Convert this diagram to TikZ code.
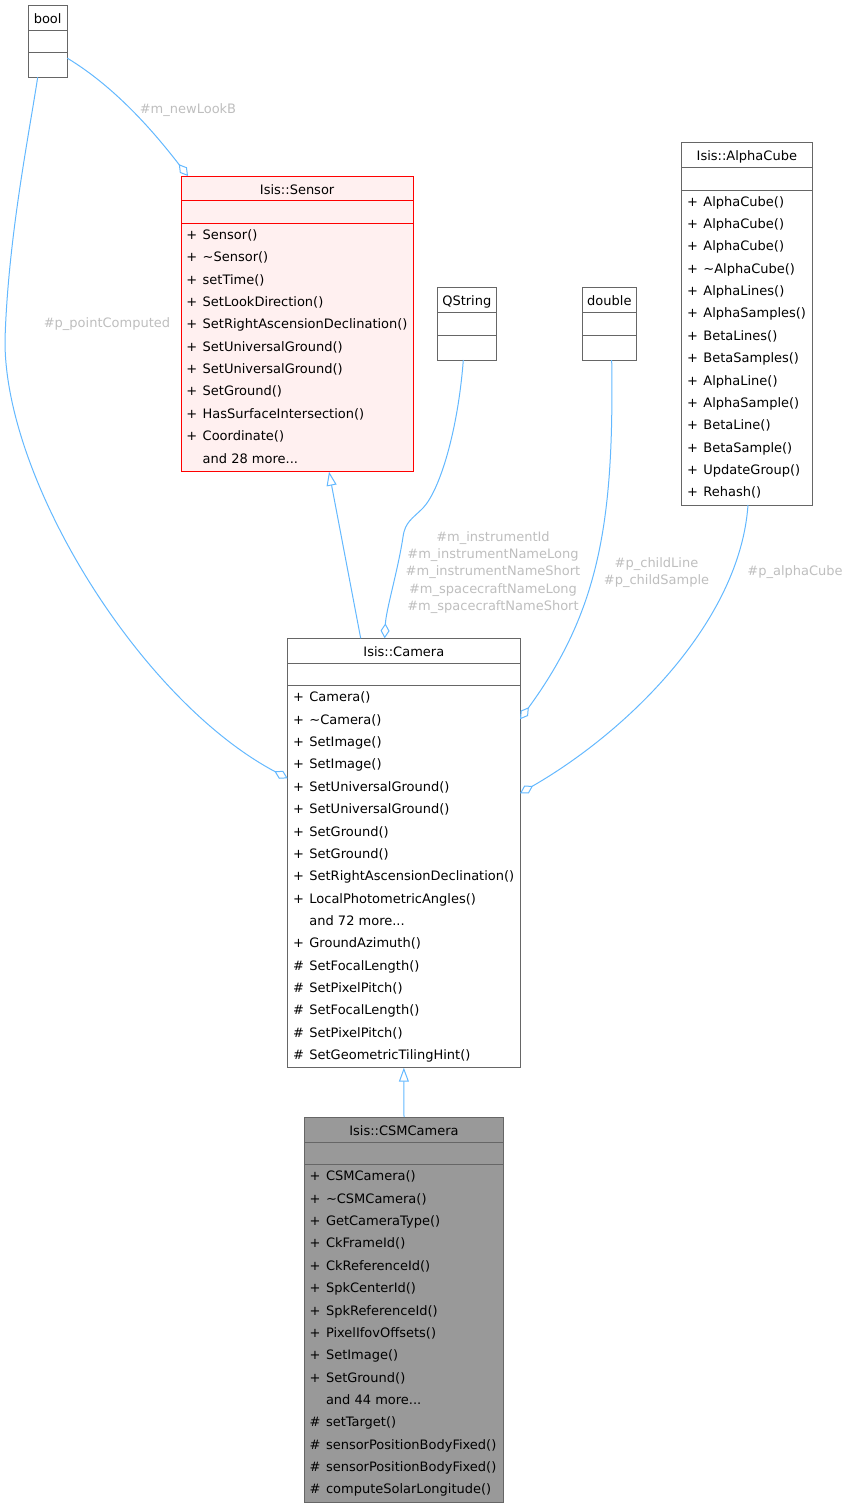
\documentclass[tikz,border=0pt]{standalone}
\usepackage{fontspec}
\setmainfont{DejaVu Sans}
\usetikzlibrary{arrows.meta}
\definecolor{edgeblue}{HTML}{63B8FF}
\definecolor{labelgrey}{HTML}{BEBEBE}
\definecolor{boxgrey}{HTML}{666666}
\definecolor{truncfill}{HTML}{FFF0F0}
\definecolor{mainfill}{HTML}{999999}
\newcommand\moredots{...}
\tikzset{
  cls/.style={draw=boxgrey, fill=white, line width=1pt, rectangle, inner sep=0pt, outer sep=0pt, anchor=north west},
  sep/.style={draw=boxgrey, line width=1pt},
  title/.style={anchor=base, inner sep=0pt},
  vis/.style={anchor=base west, inner sep=0pt},
  member/.style={anchor=base west, inner sep=0pt},
  edge/.style={draw=edgeblue, line width=1pt},
  aggr/.style={edge, -{Diamond[open, length=15pt, width=9pt]}},
  inherit/.style={edge, -{Triangle[open, length=14pt, width=10pt]}},
  lbl/.style={text=labelgrey, align=center, inner sep=0pt}
}
\begin{document}
\begin{tikzpicture}[x=1pt, y=-1pt, font=\fontsize{13}{17.1}\selectfont]
\useasboundingbox (0,0) rectangle (848,1508);

% bool
\node[cls, minimum width=39.3pt, minimum height=72.3pt] (bool) at (28,5) {};
\draw[sep] (28,30) -- (67.3,30) (28,52.3) -- (67.3,52.3);
\node[title] (booltitle) at (47.65,23) {bool};

% QString
\node[cls, minimum width=59pt, minimum height=72.3pt] (qstring) at (437.3,287.7) {};
\draw[sep] (437.3,312.7) -- (496.3,312.7) (437.3,335) -- (496.3,335);
\node[title] (qstringtitle) at (466.8,305.7) {QString};

% double
\node[cls, minimum width=54.7pt, minimum height=72.3pt] (double) at (582,287.7) {};
\draw[sep] (582,312.7) -- (636.7,312.7) (582,335) -- (636.7,335);
\node[title] (doubletitle) at (609.35,305.7) {double};

% Isis::Sensor
\node[cls, draw=red, fill=truncfill, minimum width=232.3pt, minimum height=295.7pt] (sensor) at (181,176) {};
\draw[sep, red] (181,200.7) -- (413.3,200.7) (181,223.3) -- (413.3,223.3);
\node[title] (sensortitle) at (297.15,194) {Isis::Sensor};
\foreach \p/\m [count=\i] in {+/Sensor(), +/\textasciitilde Sensor(), +/setTime(), +/SetLookDirection(),
    +/SetRightAscensionDeclination(), +/SetUniversalGround(), +/SetUniversalGround(), +/SetGround(),
    +/HasSurfaceIntersection(), +/Coordinate(), /and 28 more\moredots} {
  \node[vis] (sensorvis\i) at (186.2,{217.15+22.35*\i}) {\p};
  \node[member] (sensorrow\i) at (202.5,{217.15+22.35*\i}) {\m};
}

% Isis::AlphaCube
\node[cls, minimum width=130.3pt, minimum height=362.3pt] (alphacube) at (681.7,142.7) {};
\draw[sep] (681.7,167.7) -- (812,167.7) (681.7,190) -- (812,190);
\node[title] (alphacubetitle) at (746.85,160.7) {Isis::AlphaCube};
\foreach \p/\m [count=\i] in {+/AlphaCube(), +/AlphaCube(), +/AlphaCube(), +/\textasciitilde AlphaCube(),
    +/AlphaLines(), +/AlphaSamples(), +/BetaLines(), +/BetaSamples(), +/AlphaLine(), +/AlphaSample(),
    +/BetaLine(), +/BetaSample(), +/UpdateGroup(), +/Rehash()} {
  \node[vis] (alphacubevis\i) at (686.9,{183.85+22.35*\i}) {\p};
  \node[member] (alphacuberow\i) at (703.2,{183.85+22.35*\i}) {\m};
}

% Isis::Camera
\node[cls, minimum width=232.3pt, minimum height=429.4pt] (camera) at (287.7,638.3) {};
\draw[sep] (287.7,663.3) -- (520,663.3) (287.7,685.7) -- (520,685.7);
\node[title] (cameratitle) at (403.85,656.3) {Isis::Camera};
\foreach \p/\m [count=\i] in {+/Camera(), +/\textasciitilde Camera(), +/SetImage(), +/SetImage(),
    +/SetUniversalGround(), +/SetUniversalGround(), +/SetGround(), +/SetGround(),
    +/SetRightAscensionDeclination(), +/LocalPhotometricAngles(), /and 72 more\moredots,
    +/GroundAzimuth(), \#/SetFocalLength(), \#/SetPixelPitch(), \#/SetFocalLength(),
    \#/SetPixelPitch(), \#/SetGeometricTilingHint()} {
  \node[vis] (cameravis\i) at (292.9,{679.55+22.35*\i}) {\p};
  \node[member] (camerarow\i) at (309.2,{679.55+22.35*\i}) {\m};
}

% Isis::CSMCamera
\node[cls, fill=mainfill, minimum width=199.4pt, minimum height=385.3pt] (csm) at (304.3,1117) {};
\draw[sep] (304.3,1142.3) -- (503.7,1142.3) (304.3,1164.7) -- (503.7,1164.7);
\node[title] (csmtitle) at (404,1135) {Isis::CSMCamera};
\foreach \p/\m [count=\i] in {+/CSMCamera(), +/\textasciitilde CSMCamera(), +/GetCameraType(), +/CkFrameId(),
    +/CkReferenceId(), +/SpkCenterId(), +/SpkReferenceId(), +/PixelIfovOffsets(), +/SetImage(),
    +/SetGround(), /and 44 more\moredots, \#/setTarget(), \#/sensorPositionBodyFixed(),
    \#/sensorPositionBodyFixed(), \#/computeSolarLongitude()} {
  \node[vis] (csmvis\i) at (309.5,{1158.55+22.35*\i}) {\p};
  \node[member] (csmrow\i) at (325.8,{1158.55+22.35*\i}) {\m};
}

% edges
\draw[aggr] ([yshift=-17pt]bool.east) .. controls (120,90) and (160,140) .. ([xshift=7pt]sensor.north west);
\node[lbl, anchor=base] (lbllook) at (188,113.5) {\#m\_newLookB};
\draw[aggr] ([xshift=9.7pt]bool.south west) .. controls (28,140) and (8,240) .. (5,340)
  .. controls (4,480) and (140,700) .. ([yshift=-140pt]camera.north west);
\node[lbl, anchor=base] (lblpoint) at (107,327.5) {\#p\_pointComputed};
\draw[inherit] ([xshift=73pt]camera.north west) -- ([xshift=148pt]sensor.south west);
\draw[aggr] ([xshift=26pt]qstring.south west) .. controls (458,430) and (440,490) .. (423,508)
  .. controls (412,519) and (405,522) .. (403,537) .. controls (398,570) and (386,610) .. ([xshift=97pt]camera.north west);
\node[lbl] (lblinst) at (493,572.5) {\#m\_instrumentId\\\#m\_instrumentNameLong\\\#m\_instrumentNameShort\\\#m\_spacecraftNameLong\\\#m\_spacecraftNameShort};
\draw[aggr] ([xshift=29.7pt]double.south west) .. controls (614,520) and (600,610) .. ([yshift=-81pt]camera.north east);
\node[lbl] (lblchild) at (656.5,573) {\#p\_childLine\\\#p\_childSample};
\draw[aggr] ([xshift=66.3pt]alphacube.south west) .. controls (740,620) and (630,730) .. ([yshift=-155pt]camera.north east);
\node[lbl, anchor=base] (lblalpha) at (795,575.5) {\#p\_alphaCube};
\draw[inherit] (csm.north) -- (camera.south);
\end{tikzpicture}
\end{document}
